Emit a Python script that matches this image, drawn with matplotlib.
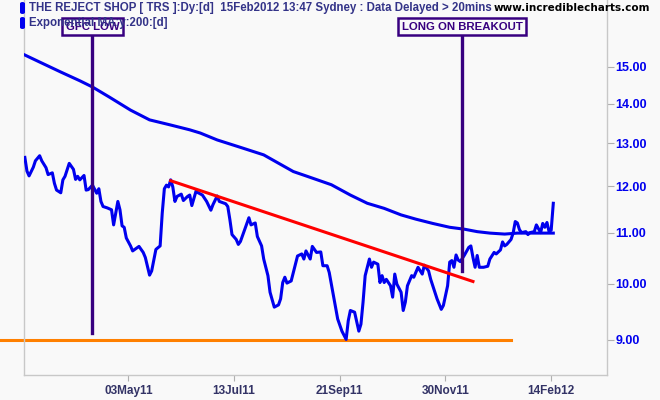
import matplotlib
matplotlib.use("Agg")
import matplotlib.pyplot as plt
from matplotlib.patches import FancyBboxPatch

# trading-day index -> closing price
price_idx = [0, 1, 2, 4, 5, 7, 8, 10, 11, 13, 14, 15, 17, 18, 19, 21, 23, 24, 25, 26,
             28, 29, 30, 32, 34, 35, 36, 37, 39, 41, 42, 44, 45, 46, 47, 48, 50, 51, 54, 56,
             57, 59, 60, 62, 64, 65, 66, 67, 68, 69, 70, 71, 72, 74, 75, 77, 78, 79, 81, 82,
             84, 86, 88, 89, 91, 92, 95, 96, 97, 98, 100, 101, 102, 104, 106, 107, 109, 110, 112, 113,
             115, 116, 118, 120, 121, 122, 123, 124, 126, 128, 129, 131, 132, 133, 135, 136, 138, 140, 141, 143,
             144, 145, 146, 148, 150, 152, 153, 154, 156, 158, 159, 160, 161, 163, 164, 165, 167, 168, 169, 170,
             171, 173, 174, 175, 176, 178, 179, 180, 181, 183, 184, 186, 188, 189, 191, 192, 194, 195, 197, 198,
             200, 201, 202, 203, 204, 205, 206, 208, 210, 211, 212, 213, 214, 215, 217, 219, 220, 222, 223, 225,
             226, 227, 228, 230, 231, 232, 233, 234, 235, 237, 238, 239, 241, 242, 244, 245, 246, 247, 248, 249,
             250]
price_val = [12.66, 12.34, 12.23, 12.43, 12.58, 12.70, 12.58, 12.42, 12.26, 12.30, 12.06, 11.91, 11.85, 12.14, 12.22, 12.52, 12.38, 12.15, 12.22, 12.14,
             12.24, 11.91, 11.92, 12.02, 11.84, 11.94, 11.66, 11.55, 11.52, 11.48, 11.16, 11.66, 11.48, 11.14, 11.11, 10.89, 10.73, 10.63, 10.72, 10.60,
             10.50, 10.16, 10.24, 10.66, 10.73, 11.41, 11.94, 12.02, 11.98, 12.14, 11.98, 11.66, 11.77, 11.82, 11.68, 11.77, 11.80, 11.57, 11.89, 11.85,
             11.80, 11.66, 11.47, 11.59, 11.78, 11.66, 11.61, 11.55, 11.27, 10.96, 10.86, 10.76, 10.82, 11.06, 11.31, 11.16, 11.20, 10.92, 10.73, 10.47,
             10.15, 9.84, 9.57, 9.61, 9.72, 10.02, 10.12, 10.01, 10.05, 10.37, 10.53, 10.57, 10.47, 10.63, 10.47, 10.72, 10.60, 10.61, 10.34, 10.34,
             10.21, 9.99, 9.78, 9.36, 9.15, 9.01, 9.33, 9.51, 9.48, 9.15, 9.27, 9.66, 10.15, 10.47, 10.31, 10.41, 10.37, 10.02, 10.15, 10.02,
             10.08, 9.96, 9.75, 10.18, 9.99, 9.84, 9.51, 9.66, 9.96, 10.15, 10.12, 10.31, 10.18, 10.35, 10.24, 10.08, 9.84, 9.72, 9.53, 9.60,
             9.96, 10.41, 10.44, 10.31, 10.55, 10.45, 10.42, 10.55, 10.70, 10.73, 10.50, 10.31, 10.54, 10.31, 10.31, 10.33, 10.47, 10.60, 10.57, 10.65,
             10.81, 10.73, 10.76, 10.86, 10.99, 11.23, 11.20, 11.06, 11.00, 11.02, 10.96, 11.00, 11.02, 11.16, 11.00, 11.19, 11.11, 11.21, 11.02, 11.05,
             11.62]

# 200-day exponential moving average
ema_idx = [0, 7, 17, 26, 32, 40, 50, 59, 69, 78, 83, 91, 102, 113, 127, 133, 145, 154, 162, 170,
           178, 185, 193, 201, 208, 214, 220, 227, 233, 250]
ema_val = [15.33, 15.13, 14.85, 14.61, 14.44, 14.17, 13.83, 13.58, 13.45, 13.33, 13.25, 13.08, 12.90, 12.72, 12.33, 12.23, 12.03, 11.80, 11.62, 11.51,
           11.37, 11.28, 11.19, 11.11, 11.07, 11.02, 10.99, 10.97, 10.99, 10.99]

trend_idx = [69, 212]
trend_val = [12.12, 10.04]
support_idx = [-12, 230]
support_val = [9.0, 9.0]

marker_idx = [32, 207]
marker_low = [9.12, 10.24]
marker_top = 15.87
marker_label_y = 16.16
marker_labels = ['GFC LOW', 'LONG ON BREAKOUT']

tick_idx = [49, 99, 149, 199, 249]
tick_labels = ['03May11', '13Jul11', '21Sep11', '30Nov11', '14Feb12']
y_ticks = [9, 10, 11, 12, 13, 14, 15]

bg = '#f9f9f9'
blue = '#0000ee'
purple = '#380080'
plt.rcParams['font.family'] = ['Liberation Sans', 'DejaVu Sans']

fig = plt.figure(figsize=(6.6, 4.0), dpi=100, facecolor=bg)
ax = fig.add_axes([0.037, 0.0625, 0.883, 0.9375], facecolor=bg)
ax.set_yscale('log')
ax.set_ylim(8.43, 16.99)
ax.set_xlim(-0.2, 275.5)

ax.plot(support_idx, support_val, color='#ff8000', lw=2.2, clip_on=False, zorder=2)
ax.plot(ema_idx, ema_val, color=blue, lw=2.2, zorder=3)
ax.plot(price_idx, price_val, color=blue, lw=2.2, zorder=3)
ax.plot(trend_idx, trend_val, color='#ff0000', lw=2.2, zorder=4)

for xi, lo, lab in zip(marker_idx, marker_low, marker_labels):
    ax.plot([xi, xi], [lo, marker_top], color=purple, lw=2.4, zorder=5)
    ax.text(xi, marker_label_y, lab, ha='center', va='center', color=purple,
            fontsize=8.2, fontweight='bold', zorder=5,
            bbox=dict(boxstyle='square,pad=0.32', fc=bg, ec=purple, lw=1.8))

ax.yaxis.tick_right()
ax.set_yticks(y_ticks)
ax.set_yticklabels(['%.2f' % v for v in y_ticks])
ax.yaxis.set_minor_locator(matplotlib.ticker.NullLocator())
ax.set_xticks(tick_idx)
ax.set_xticklabels(tick_labels)
ax.tick_params(axis='y', length=5, color='#b0b0b0', labelcolor=blue, labelsize=9, pad=1)
ax.tick_params(axis='x', length=4, color='#b0b0b0', labelcolor='#333366', labelsize=8.5, pad=3)
for lab in ax.get_xticklabels() + ax.get_yticklabels():
    lab.set_fontweight('bold')

ax.spines['top'].set_visible(False)
for s in ['left', 'right', 'bottom']:
    ax.spines[s].set_color('#c8c8c8')
    ax.spines[s].set_linewidth(1)

# header
head = '#333388'
for ty, txt in [(8, 'THE REJECT SHOP [ TRS ]:Dy:[d]  15Feb2012 13:47 Sydney : Data Delayed > 20mins'),
                (23, 'Exponential MA:y:200:[d]')]:
    fig.patches.append(FancyBboxPatch((20 / 660, 1 - (ty + 6) / 400), 5 / 660, 12 / 400,
                                      boxstyle='round,pad=0,rounding_size=0.004',
                                      transform=fig.transFigure, fc=blue, ec='none'))
    fig.text(29 / 660, 1 - ty / 400, txt, ha='left', va='center', color=head,
             fontsize=8.3, fontweight='bold', zorder=10)
fig.text(650 / 660, 1 - 8 / 400, 'www.incrediblecharts.com', ha='right', va='center',
         color='black', fontsize=7.5, fontweight='bold', family='DejaVu Sans')

fig.savefig('out.png', dpi=100, facecolor=bg)
